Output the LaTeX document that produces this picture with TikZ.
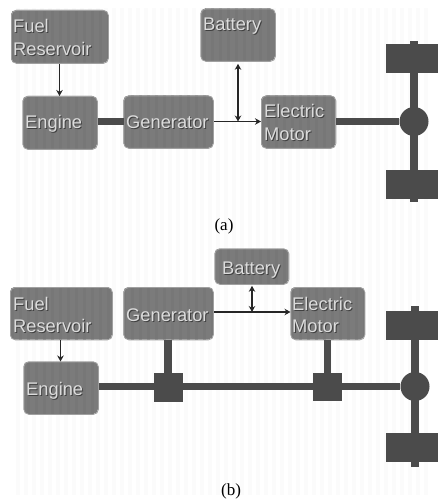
\documentclass[tikz,border=0pt]{standalone}
\usepackage{fontspec}
\setmainfont{Liberation Sans}
\newfontfamily\capfont{Liberation Serif}
\usetikzlibrary{arrows.meta}
\definecolor{boxfill}{HTML}{7B7B7B}
\definecolor{boxedge}{HTML}{A0A0A0}
\definecolor{dark}{HTML}{4B4B4B}
\definecolor{lighttext}{HTML}{DCDCDC}
\definecolor{shade}{HTML}{404040}
\definecolor{stripe}{HTML}{FBFBFB}
\definecolor{boxstripe}{HTML}{777777}
\tikzset{
  ctl/.style={draw=boxedge,line width=0.8pt,rounded corners=5pt,inner sep=0pt,anchor=north west},
  block/.style={fill=dark,inner sep=0pt,anchor=north west},
  shaft/.style={draw=dark,line width=7.5pt},
  axle/.style={draw=dark,line width=7.5pt},
  sig/.style={draw=black!85,line width=1.7pt,-{Stealth[length=6pt,width=6.5pt]}},
  bisig/.style={draw=black!85,line width=1.7pt,{Stealth[length=6pt,width=6.5pt]}-{Stealth[length=6pt,width=6.5pt]}},
  txt/.style={font=\fontsize{18.3}{18.3}\selectfont,inner sep=0pt,anchor=base west},
  captext/.style={font=\capfont\fontsize{17}{17}\selectfont,inner sep=0pt,anchor=base},
}
% box: name, x1, y1, x2, y2
\newcommand{\ctlbox}[5]{%
  \pgfmathsetmacro{\bw}{#4-#2}\pgfmathsetmacro{\bh}{#5-#3}%
  \fill[boxfill,rounded corners=5pt] (#2,#3) rectangle (#4,#5);
  \begin{scope}
    \clip[rounded corners=5pt] (#2,#3) rectangle (#4,#5);
    \foreach \sx in {4,12,...,436} {\draw[boxstripe,line width=3pt] (\sx,#3) -- (\sx,#5);}
  \end{scope}
  \node[ctl,minimum width=\bw pt,minimum height=\bh pt] (#1) at (#2,#3) {};
}
% label: name, x, baseline y, text
\newcommand{\lbl}[4]{%
  \node[txt,text=shade] (#1s) at (#2+1,#3+1) {#4};
  \node[txt,text=lighttext] (#1) at (#2,#3) {#4};
}
% wheel block: name, x1, y1, x2, y2
\newcommand{\blk}[5]{%
  \pgfmathsetmacro{\bw}{#4-#2}\pgfmathsetmacro{\bh}{#5-#3}%
  \node[block,minimum width=\bw pt,minimum height=\bh pt] (#1) at (#2,#3) {};
}
\begin{document}
\begin{tikzpicture}[x=1pt,y=-1pt]
\useasboundingbox (0,0) rectangle (438,502);
\fill[white] (0,0) rectangle (438,502);
\foreach \sx in {16,24,...,430} {\fill[stripe] (\sx,8) rectangle (\sx+4,495);}

% (a) shafts and wheels first
\blk{awheelt}{386}{44}{438}{73}
\blk{awheelb}{386}{170}{438}{199}
\node[circle,fill=dark,minimum size=29pt,inner sep=0pt] (ahub) at (414,121.5) {};
\coordinate (aaxlet) at (414,41);
\coordinate (aaxleb) at (414,202);
\draw[axle] (aaxlet) -- (aaxleb);

\ctlbox{afuel}{11}{10}{108}{63}
\ctlbox{abatt}{200.5}{8.5}{275}{61}
\ctlbox{aeng}{22.5}{96}{97}{149}
\ctlbox{agen}{123.5}{95.5}{213}{148}
\ctlbox{amot}{261}{95.5}{335.5}{148}

\draw[shaft] (aeng.east|-0,121.5) -- (agen.west|-0,121.5);
\draw[shaft] (amot.east|-0,121.5) -- (ahub.west);
\draw[sig] (afuel.south-|59.5,0) -- (aeng.north-|59.5,0);
\draw[sig] (agen.east|-0,121.5) -- (amot.west|-0,121.5);
\coordinate (ajoin) at (238,121.5);
\draw[bisig] (abatt.south-|238,0) ++(0,2) -- (ajoin);

\lbl{afuelt}{13}{33}{Fuel}
\lbl{afuelr}{13}{56}{Reservoir}
\lbl{abattt}{203}{31}{Battery}
\lbl{aengt}{25}{129}{Engine}
\lbl{agent}{126}{129}{Generator}
\lbl{amote}{264}{118}{Electric}
\lbl{amotm}{264}{141}{Motor}
\node[captext] (acap) at (224,230) {(a)};

% (b)
\blk{bwheelt}{386}{311}{438}{340}
\blk{bwheelb}{386}{433}{438}{462}
\node[circle,fill=dark,minimum size=29pt,inner sep=0pt] (bhub) at (415,386.5) {};
\coordinate (baxlet) at (415,306);
\coordinate (baxleb) at (415,467);
\draw[axle] (baxlet) -- (baxleb);
\blk{bsq1}{153.5}{373}{182.5}{401.5}
\blk{bsq2}{313}{373}{342}{401}

\ctlbox{bfuel}{10}{287}{112}{339.5}
\ctlbox{bgen}{123.5}{287}{213}{339.5}
\ctlbox{bbatt}{214.5}{248.5}{288.5}{284}
\ctlbox{bmot}{290.5}{287}{364.5}{339.5}
\ctlbox{beng}{23.5}{361.5}{98}{414}

\draw[shaft] (beng.east|-0,386.5) -- (bhub.west);
\draw[shaft] (bgen.south-|168,0) -- (bsq1.north-|168,0);
\draw[shaft] (bmot.south-|327.5,0) -- (bsq2.north-|327.5,0);
\draw[sig] (bfuel.south-|60.5,0) -- (beng.north-|60.5,0);
\draw[sig] (bgen.east|-0,312) -- (bmot.west|-0,312);
\coordinate (bjoin) at (252,312);
\draw[bisig] (bbatt.south-|252,0) ++(0,1) -- (bjoin);

\lbl{bfuelt}{13}{310}{Fuel}
\lbl{bfuelr}{13}{332}{Reservoir}
\lbl{bgent}{126}{321}{Generator}
\lbl{bbattt}{222}{274}{Battery}
\lbl{bmote}{292}{310}{Electric}
\lbl{bmotm}{292}{332}{Motor}
\lbl{bengt}{26}{395}{Engine}
\node[captext] (bcap) at (231,495) {(b)};
\end{tikzpicture}
\end{document}
